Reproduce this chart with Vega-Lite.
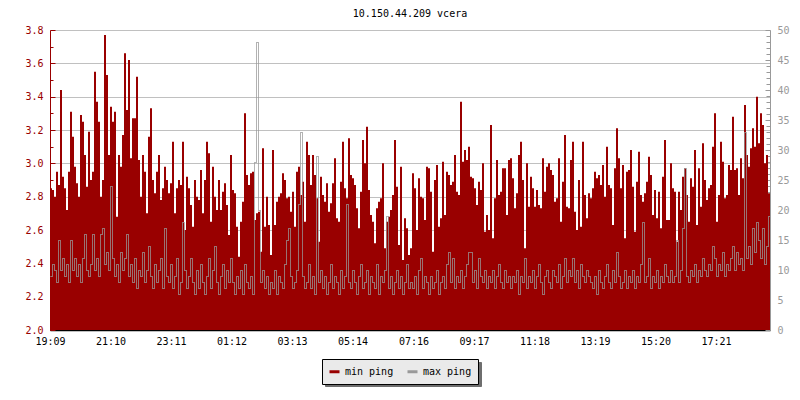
{
"$schema": "https://vega.github.io/schema/vega-lite/v6.json",
"width": 720, "height": 300,
"autosize": {"type": "none"},
"padding": {"left": 50, "top": 30, "right": 30, "bottom": 70},
"background": "white",
"title": {"text": "10.150.44.209 vcera", "font": "DejaVu Sans Mono", "fontSize": 10, "fontWeight": "normal", "color": "black", "anchor": "middle", "frame": "group", "offset": 6},
"config": {"view": {"stroke": null}, "axis": {"labelFont": "DejaVu Sans Mono", "labelFontSize": 10}},
"data": {"values": [
{"t":0,"a":2.85,"b":9},{"t":4,"a":2.84,"b":11},{"t":8,"a":2.8,"b":10},{"t":12,"a":2.95,"b":8},{"t":16,"a":2.87,"b":15},{"t":20,"a":3.44,"b":10},{"t":24,"a":2.92,"b":12},{"t":28,"a":2.85,"b":9},{"t":32,"a":2.72,"b":11},{"t":36,"a":2.95,"b":8},
{"t":40,"a":3.31,"b":15},{"t":44,"a":3.16,"b":10},{"t":48,"a":2.98,"b":12},{"t":52,"a":2.88,"b":9},{"t":56,"a":2.8,"b":11},{"t":60,"a":3.29,"b":8},{"t":64,"a":3.25,"b":12},{"t":68,"a":3.05,"b":16},{"t":72,"a":2.86,"b":10},{"t":76,"a":3.19,"b":9},
{"t":80,"a":2.9,"b":11},{"t":84,"a":2.95,"b":16},{"t":88,"a":3.55,"b":10},{"t":92,"a":3.37,"b":12},{"t":96,"a":3.25,"b":9},{"t":100,"a":2.8,"b":16},{"t":104,"a":2.9,"b":17},{"t":108,"a":3.77,"b":11},{"t":112,"a":3.53,"b":13},{"t":116,"a":3.05,"b":10},
{"t":120,"a":3.34,"b":24},{"t":124,"a":3.25,"b":12},{"t":128,"a":3.31,"b":9},{"t":132,"a":2.68,"b":11},{"t":136,"a":3.05,"b":8},{"t":140,"a":2.98,"b":13},{"t":144,"a":3.17,"b":10},{"t":148,"a":3.66,"b":12},{"t":152,"a":3.32,"b":16},{"t":156,"a":3.62,"b":9},
{"t":160,"a":3.03,"b":11},{"t":164,"a":3.27,"b":8},{"t":168,"a":3.27,"b":12},{"t":172,"a":3.52,"b":7},{"t":176,"a":3.02,"b":10},{"t":180,"a":2.8,"b":9},{"t":184,"a":3.05,"b":13},{"t":188,"a":2.95,"b":8},{"t":192,"a":2.7,"b":10},{"t":196,"a":3.16,"b":14},
{"t":200,"a":3.33,"b":9},{"t":204,"a":2.9,"b":7},{"t":208,"a":2.82,"b":11},{"t":212,"a":2.95,"b":8},{"t":216,"a":3.05,"b":10},{"t":220,"a":2.78,"b":12},{"t":224,"a":2.85,"b":7},{"t":228,"a":2.98,"b":17},{"t":232,"a":2.9,"b":9},{"t":236,"a":2.82,"b":8},
{"t":240,"a":2.88,"b":11},{"t":244,"a":3.13,"b":7},{"t":248,"a":2.7,"b":9},{"t":252,"a":2.85,"b":12},{"t":256,"a":2.9,"b":6},{"t":260,"a":2.87,"b":8},{"t":264,"a":3.13,"b":18},{"t":268,"a":2.6,"b":10},{"t":272,"a":2.92,"b":7},{"t":276,"a":2.85,"b":9},
{"t":280,"a":2.75,"b":12},{"t":284,"a":2.62,"b":8},{"t":288,"a":2.9,"b":6},{"t":292,"a":2.8,"b":10},{"t":296,"a":2.78,"b":7},{"t":300,"a":2.96,"b":11},{"t":304,"a":2.7,"b":8},{"t":308,"a":2.9,"b":6},{"t":312,"a":3.13,"b":9},{"t":316,"a":3.06,"b":12},
{"t":320,"a":2.65,"b":7},{"t":324,"a":2.98,"b":10},{"t":328,"a":2.8,"b":14},{"t":332,"a":2.72,"b":8},{"t":336,"a":2.9,"b":6},{"t":340,"a":2.72,"b":9},{"t":344,"a":2.83,"b":11},{"t":348,"a":2.88,"b":7},{"t":352,"a":2.75,"b":10},{"t":356,"a":2.57,"b":8},
{"t":360,"a":3.05,"b":12},{"t":364,"a":2.84,"b":8},{"t":368,"a":2.82,"b":6},{"t":372,"a":2.62,"b":9},{"t":376,"a":2.44,"b":7},{"t":380,"a":2.65,"b":10},{"t":384,"a":2.77,"b":6},{"t":388,"a":3.3,"b":11},{"t":392,"a":2.93,"b":8},{"t":396,"a":2.87,"b":7},
{"t":400,"a":2.94,"b":9},{"t":404,"a":2.95,"b":6},{"t":408,"a":2.66,"b":28},{"t":412,"a":2.7,"b":48},{"t":416,"a":2.71,"b":20},{"t":420,"a":2.47,"b":8},{"t":424,"a":3.09,"b":10},{"t":428,"a":2.62,"b":7},{"t":432,"a":2.8,"b":9},{"t":436,"a":2.63,"b":6},
{"t":440,"a":2.45,"b":8},{"t":444,"a":3.08,"b":7},{"t":448,"a":2.63,"b":10},{"t":452,"a":2.77,"b":6},{"t":456,"a":2.8,"b":9},{"t":460,"a":2.82,"b":8},{"t":464,"a":2.94,"b":7},{"t":468,"a":2.9,"b":11},{"t":472,"a":2.79,"b":15},{"t":476,"a":2.8,"b":17},
{"t":480,"a":2.71,"b":9},{"t":484,"a":2.83,"b":7},{"t":488,"a":2.62,"b":8},{"t":492,"a":2.95,"b":10},{"t":496,"a":2.98,"b":21},{"t":500,"a":2.81,"b":33},{"t":504,"a":2.89,"b":9},{"t":508,"a":2.65,"b":7},{"t":512,"a":3.13,"b":8},{"t":516,"a":3.05,"b":11},
{"t":520,"a":2.87,"b":7},{"t":524,"a":3.05,"b":9},{"t":528,"a":2.93,"b":6},{"t":532,"a":2.79,"b":29},{"t":536,"a":2.53,"b":8},{"t":540,"a":2.92,"b":10},{"t":544,"a":2.81,"b":7},{"t":548,"a":2.77,"b":9},{"t":552,"a":2.88,"b":6},{"t":556,"a":2.71,"b":8},
{"t":560,"a":2.76,"b":11},{"t":564,"a":2.88,"b":7},{"t":568,"a":3.03,"b":9},{"t":572,"a":2.67,"b":8},{"t":576,"a":2.65,"b":6},{"t":580,"a":2.89,"b":10},{"t":584,"a":3.13,"b":7},{"t":588,"a":2.85,"b":9},{"t":592,"a":2.79,"b":21},{"t":596,"a":3.15,"b":8},
{"t":600,"a":2.93,"b":7},{"t":604,"a":2.91,"b":10},{"t":608,"a":2.87,"b":8},{"t":612,"a":2.73,"b":6},{"t":616,"a":2.61,"b":9},{"t":620,"a":2.83,"b":11},{"t":624,"a":3.14,"b":7},{"t":628,"a":3.0,"b":8},{"t":632,"a":3.22,"b":10},{"t":636,"a":2.84,"b":6},
{"t":640,"a":2.69,"b":9},{"t":644,"a":2.65,"b":8},{"t":648,"a":2.52,"b":7},{"t":652,"a":2.73,"b":11},{"t":656,"a":2.77,"b":6},{"t":660,"a":2.79,"b":9},{"t":664,"a":3.0,"b":8},{"t":668,"a":2.49,"b":10},{"t":672,"a":2.65,"b":19},{"t":676,"a":2.68,"b":7},
{"t":680,"a":2.72,"b":9},{"t":684,"a":2.81,"b":6},{"t":688,"a":3.14,"b":8},{"t":692,"a":2.86,"b":10},{"t":696,"a":2.51,"b":7},{"t":700,"a":2.98,"b":9},{"t":704,"a":2.42,"b":6},{"t":708,"a":2.67,"b":8},{"t":712,"a":2.61,"b":11},{"t":716,"a":2.45,"b":7},
{"t":720,"a":2.49,"b":8},{"t":724,"a":2.94,"b":7},{"t":728,"a":2.85,"b":9},{"t":732,"a":2.6,"b":6},{"t":736,"a":2.91,"b":10},{"t":740,"a":2.8,"b":12},{"t":744,"a":2.79,"b":7},{"t":748,"a":2.66,"b":9},{"t":752,"a":2.98,"b":8},{"t":756,"a":2.97,"b":6},
{"t":760,"a":2.83,"b":9},{"t":764,"a":2.47,"b":7},{"t":768,"a":2.9,"b":8},{"t":772,"a":2.99,"b":10},{"t":776,"a":2.62,"b":6},{"t":780,"a":2.67,"b":8},{"t":784,"a":3.01,"b":9},{"t":788,"a":2.69,"b":7},{"t":792,"a":2.95,"b":11},{"t":796,"a":2.93,"b":13},
{"t":800,"a":2.87,"b":8},{"t":804,"a":2.89,"b":12},{"t":808,"a":3.05,"b":7},{"t":812,"a":2.83,"b":9},{"t":816,"a":2.81,"b":8},{"t":820,"a":3.37,"b":10},{"t":824,"a":3.01,"b":7},{"t":828,"a":3.08,"b":9},{"t":832,"a":3.02,"b":11},{"t":836,"a":3.1,"b":13},
{"t":840,"a":2.92,"b":13},{"t":844,"a":2.91,"b":8},{"t":848,"a":2.85,"b":10},{"t":852,"a":2.75,"b":7},{"t":856,"a":2.89,"b":12},{"t":860,"a":2.84,"b":9},{"t":864,"a":3.0,"b":8},{"t":868,"a":2.59,"b":10},{"t":872,"a":2.69,"b":7},{"t":876,"a":2.6,"b":9},
{"t":880,"a":3.23,"b":8},{"t":884,"a":2.55,"b":10},{"t":888,"a":2.79,"b":7},{"t":892,"a":3.02,"b":9},{"t":896,"a":2.81,"b":11},{"t":900,"a":2.83,"b":8},{"t":904,"a":2.97,"b":7},{"t":908,"a":2.97,"b":10},{"t":912,"a":2.69,"b":8},{"t":916,"a":3.02,"b":9},
{"t":920,"a":3.03,"b":7},{"t":924,"a":2.91,"b":9},{"t":928,"a":2.73,"b":8},{"t":932,"a":2.82,"b":10},{"t":936,"a":3.05,"b":6},{"t":940,"a":3.13,"b":9},{"t":944,"a":2.9,"b":8},{"t":948,"a":2.49,"b":12},{"t":952,"a":3.0,"b":7},{"t":956,"a":2.74,"b":9},
{"t":960,"a":2.92,"b":8},{"t":964,"a":2.85,"b":10},{"t":968,"a":2.74,"b":7},{"t":972,"a":2.84,"b":9},{"t":976,"a":2.75,"b":11},{"t":980,"a":2.73,"b":8},{"t":984,"a":3.03,"b":6},{"t":988,"a":2.83,"b":9},{"t":992,"a":2.98,"b":10},{"t":996,"a":3.0,"b":8},
{"t":1000,"a":2.96,"b":7},{"t":1004,"a":2.93,"b":10},{"t":1008,"a":2.77,"b":9},{"t":1012,"a":2.79,"b":8},{"t":1016,"a":3.03,"b":11},{"t":1020,"a":2.65,"b":7},{"t":1024,"a":2.89,"b":9},{"t":1028,"a":3.17,"b":12},{"t":1032,"a":2.74,"b":8},{"t":1036,"a":2.73,"b":10},
{"t":1040,"a":3.02,"b":9},{"t":1044,"a":3.13,"b":12},{"t":1048,"a":2.71,"b":8},{"t":1052,"a":2.6,"b":10},{"t":1056,"a":2.9,"b":7},{"t":1060,"a":2.62,"b":11},{"t":1064,"a":3.13,"b":9},{"t":1068,"a":2.81,"b":8},{"t":1072,"a":2.67,"b":10},{"t":1076,"a":2.82,"b":9},
{"t":1080,"a":2.79,"b":8},{"t":1084,"a":2.85,"b":7},{"t":1088,"a":2.95,"b":9},{"t":1092,"a":2.91,"b":6},{"t":1096,"a":2.93,"b":10},{"t":1100,"a":2.87,"b":8},{"t":1104,"a":2.99,"b":7},{"t":1108,"a":2.8,"b":9},{"t":1112,"a":3.1,"b":11},{"t":1116,"a":2.87,"b":8},
{"t":1120,"a":2.85,"b":7},{"t":1124,"a":2.63,"b":10},{"t":1128,"a":2.97,"b":8},{"t":1132,"a":3.21,"b":13},{"t":1136,"a":3.03,"b":9},{"t":1140,"a":2.85,"b":7},{"t":1144,"a":2.99,"b":8},{"t":1148,"a":2.55,"b":10},{"t":1152,"a":2.95,"b":7},{"t":1156,"a":2.96,"b":9},
{"t":1160,"a":3.08,"b":8},{"t":1164,"a":2.86,"b":10},{"t":1168,"a":2.59,"b":7},{"t":1172,"a":2.89,"b":9},{"t":1176,"a":3.07,"b":8},{"t":1180,"a":2.81,"b":11},{"t":1184,"a":2.77,"b":18},{"t":1188,"a":2.82,"b":8},{"t":1192,"a":2.89,"b":9},{"t":1196,"a":3.04,"b":12},
{"t":1200,"a":2.93,"b":7},{"t":1204,"a":2.69,"b":9},{"t":1208,"a":2.84,"b":8},{"t":1212,"a":2.67,"b":10},{"t":1216,"a":2.83,"b":7},{"t":1220,"a":2.61,"b":9},{"t":1224,"a":2.92,"b":8},{"t":1228,"a":3.14,"b":11},{"t":1232,"a":2.66,"b":9},{"t":1236,"a":2.66,"b":8},
{"t":1240,"a":3.0,"b":10},{"t":1244,"a":2.85,"b":8},{"t":1248,"a":2.83,"b":9},{"t":1252,"a":2.53,"b":15},{"t":1256,"a":2.83,"b":8},{"t":1260,"a":2.72,"b":10},{"t":1264,"a":2.92,"b":17},{"t":1268,"a":2.97,"b":27},{"t":1272,"a":2.81,"b":9},{"t":1276,"a":2.65,"b":8},
{"t":1280,"a":2.91,"b":10},{"t":1284,"a":2.86,"b":9},{"t":1288,"a":3.08,"b":11},{"t":1292,"a":2.63,"b":8},{"t":1296,"a":2.97,"b":10},{"t":1300,"a":2.74,"b":9},{"t":1304,"a":3.12,"b":12},{"t":1308,"a":2.9,"b":10},{"t":1312,"a":2.78,"b":9},{"t":1316,"a":2.85,"b":11},
{"t":1320,"a":2.87,"b":10},{"t":1324,"a":3.1,"b":14},{"t":1328,"a":3.3,"b":12},{"t":1332,"a":2.65,"b":9},{"t":1336,"a":2.81,"b":11},{"t":1340,"a":3.13,"b":10},{"t":1344,"a":3.01,"b":13},{"t":1348,"a":2.79,"b":9},{"t":1352,"a":2.81,"b":11},{"t":1356,"a":2.99,"b":10},
{"t":1360,"a":2.96,"b":12},{"t":1364,"a":3.28,"b":14},{"t":1368,"a":2.96,"b":10},{"t":1372,"a":2.97,"b":13},{"t":1376,"a":2.81,"b":11},{"t":1380,"a":3.03,"b":12},{"t":1384,"a":2.91,"b":10},{"t":1388,"a":3.35,"b":33},{"t":1392,"a":3.05,"b":12},{"t":1396,"a":2.98,"b":14},
{"t":1400,"a":3.09,"b":11},{"t":1404,"a":3.21,"b":17},{"t":1408,"a":3.1,"b":13},{"t":1412,"a":3.4,"b":18},{"t":1416,"a":3.12,"b":15},{"t":1420,"a":3.3,"b":12},{"t":1424,"a":3.23,"b":17},{"t":1428,"a":3.0,"b":11},{"t":1432,"a":3.05,"b":14},{"t":1436,"a":2.82,"b":19},
{"t":1440,"a":2.73,"b":12}
]},
"encoding": {
  "x": {"field": "t", "type": "quantitative", "scale": {"domain": [0, 1440], "nice": false, "zero": false},
    "axis": {"title": null, "grid": false, "values": [0,121,242,363,484,605,727,848,969,1090,1211,1332],
      "labelExpr": "['19:09','21:10','23:11','01:12','03:13','05:14','07:16','09:17','11:18','13:19','15:20','17:21'][indexof([0,121,242,363,484,605,727,848,969,1090,1211,1332], datum.value)]",
      "domainColor": "black", "domainWidth": 1.5, "tickColor": "black", "tickSize": -5, "labelColor": "black", "labelPadding": 11, "labelFlush": false, "labelOverlap": false}}
},
"layer": [
  {"mark": {"type": "area", "interpolate": "step-after", "clip": true},
   "encoding": {
     "y": {"field": "a", "type": "quantitative", "scale": {"domain": [2, 3.8], "nice": false, "zero": false},
       "axis": {"title": null, "orient": "left", "values": [2,2.1,2.2,2.3,2.4,2.5,2.6,2.7,2.8,2.9,3,3.1,3.2,3.3,3.4,3.5,3.6,3.7,3.8],
         "labelExpr": "round(datum.value*10)%2==0 ? format(datum.value,'.1f') : ''",
         "labelColor": "#990000", "domainColor": "#990000", "tickColor": "#990000",
         "tickSize": {"condition": {"test": "round(datum.value*10)%2==0", "value": -5}, "value": -3},
         "grid": true, "gridColor": "#c0c0c0",
         "gridOpacity": {"condition": {"test": "round(datum.value*10)%2==0", "value": 1}, "value": 0},
         "labelPadding": 12, "labelOverlap": false, "labelFlush": false}},
     "y2": {"datum": 2},
     "color": {"datum": "min ping", "type": "nominal",
       "scale": {"domain": ["min ping", "max ping"], "range": ["#990000", "#999999"]},
       "legend": {"orient": "none", "legendX": 272, "legendY": 329, "direction": "horizontal", "title": null, "zindex": 2,
         "fillColor": "#eaeaea", "strokeColor": "black", "padding": 6,
         "symbolType": "stroke", "symbolSize": 100, "symbolStrokeWidth": 3,
         "labelFont": "DejaVu Sans Mono", "labelFontSize": 10, "labelColor": "black",
         "columnPadding": 7, "labelOffset": 4,
         "encode": {"symbols": {"update": {"stroke": {"scale": "color", "field": "value"}, "strokeWidth": {"value": 3}, "fill": {"value": "transparent"}}}}}}
   }},
  {"mark": {"type": "line", "interpolate": "step-after", "strokeWidth": 1, "clip": true, "xOffset": 0.5, "yOffset": 0.5},
   "encoding": {
     "y": {"field": "b", "type": "quantitative", "scale": {"domain": [0, 50], "nice": false},
       "axis": {"title": null, "orient": "right", "values": [0,1,2,3,4,5,6,7,8,9,10,11,12,13,14,15,16,17,18,19,20,21,22,23,24,25,26,27,28,29,30,31,32,33,34,35,36,37,38,39,40,41,42,43,44,45,46,47,48,49,50],
         "labelExpr": "datum.value % 5 == 0 ? format(datum.value,'d') : ''",
         "labelColor": "#999999", "domainColor": "#999999", "tickColor": "#999999",
         "tickSize": {"condition": {"test": "datum.value % 5 == 0", "value": -5}, "value": -4},
         "grid": false, "labelPadding": 12, "labelOverlap": false, "labelFlush": false}},
     "color": {"datum": "max ping", "type": "nominal"},
     "strokeDash": {"datum": "s1", "type": "nominal",
       "scale": {"domain": ["s1","s2","s3","s4","s5","s6","s7","s8","s9","s10","s11","s12"], "range": [[1,0],[1,0],[1,0],[1,0],[1,0],[1,0],[1,0],[1,0],[1,0],[1,0],[1,0],[1,0]]},
       "legend": {"orient": "none", "legendX": 275, "legendY": 332, "title": null, "zindex": 1, "direction": "horizontal", "columns": 12,
         "fillColor": "#6e6e6e", "strokeColor": "#6e6e6e", "padding": 6,
         "symbolType": "square", "symbolSize": 144, "symbolOpacity": 0, "symbolStrokeWidth": 0,
         "labelExpr": "''", "labelOffset": 0, "columnPadding": 0, "labelFontSize": 10}}
   }}
],
"resolve": {"scale": {"y": "independent"}}
}
